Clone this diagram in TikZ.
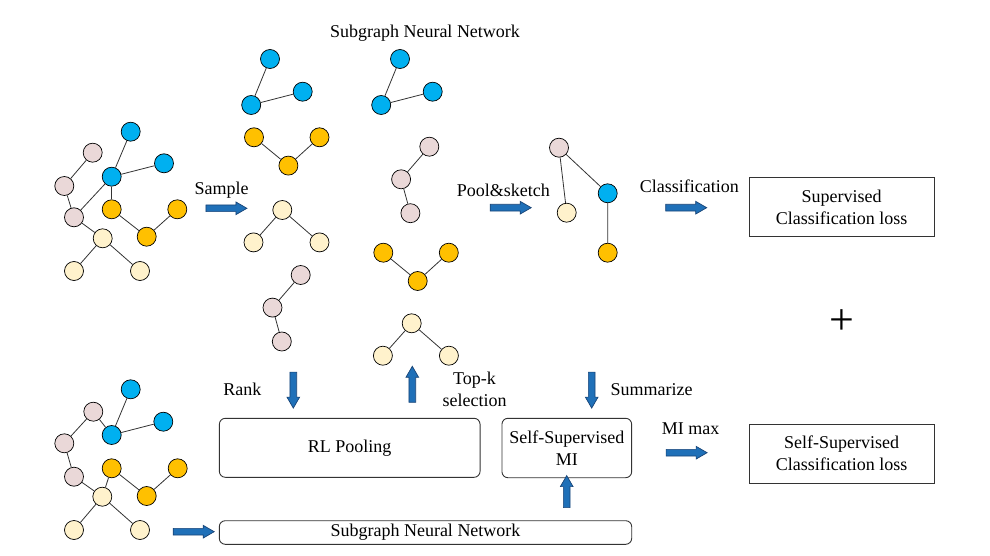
\documentclass[tikz,border=0pt]{standalone}
\usepackage{fontspec}
\setmainfont{Liberation Serif}
\usetikzlibrary{shapes.arrows}
\definecolor{vblue}{RGB}{0,176,240}
\definecolor{vorange}{RGB}{255,192,0}
\definecolor{vpink}{RGB}{234,216,216}
\definecolor{vcream}{RGB}{255,242,204}
\definecolor{arrowblue}{RGB}{31,112,184}
\definecolor{arrowedge}{RGB}{25,68,118}
\tikzset{every node/.style={font=\fontsize{18}{22}\selectfont}}
\tikzset{vtx/.style={circle, draw=black, line width=0.7pt, minimum size=19pt, inner sep=0pt},
  bv/.style={vtx, fill=vblue}, ov/.style={vtx, fill=vorange},
  pv/.style={vtx, fill=vpink}, cv/.style={vtx, fill=vcream},
  edge/.style={draw=black!80, line width=0.8pt}}
\tikzset{fat/.style={single arrow, draw=arrowedge, fill=arrowblue, line width=0.7pt,
  inner xsep=0pt, inner ysep=3pt, single arrow head extend=3pt, single arrow tip angle=60},
  box/.style={draw=black!80, line width=0.9pt, align=center, inner sep=0pt},
  rbox/.style={box, rounded corners=6pt}}

\begin{document}
\begin{tikzpicture}[x=1pt,y=-1pt]
   \useasboundingbox (0,0) rectangle (990,556);

   % input graph (top)
   \node[bv] (gb1) at (130.7,131.7) {};
   \node[pv] (gp1) at ( 92.7,152.7) {};
   \node[bv] (gb2) at (111.7,176.7) {};
   \node[bv] (gb3) at (164.0,163.3) {};
   \node[pv] (gp2) at ( 64.3,186.0) {};
   \node[ov] (go1) at (111.7,209.3) {};
   \node[ov] (go3) at (177.3,209.3) {};
   \node[pv] (gp3) at ( 74.0,217.3) {};
   \node[ov] (go2) at (146.7,236.7) {};
   \node[cv] (gc1) at (102.7,238.3) {};
   \node[cv] (gc2) at ( 74.0,271.0) {};
   \node[cv] (gc3) at (140.0,271.0) {};
   \draw[edge] (gb1) -- (gb2) -- (gb3);
   \draw[edge] (gb2) -- (go1);
   \draw[edge] (gb2) -- (gp3);
   \draw[edge] (gp1) -- (gp2) -- (gp3) -- (gc1);
   \draw[edge] (go1) -- (go2) -- (go3);
   \draw[edge] (gc2) -- (gc1) -- (gc3);

   % input graph (bottom)
   \node[bv] (hb1) at (130.7,389.3) {};
   \node[pv] (hp1) at ( 93.3,411.7) {};
   \node[bv] (hb2) at (111.7,435.0) {};
   \node[bv] (hb3) at (163.3,421.7) {};
   \node[pv] (hp2) at ( 64.3,443.3) {};
   \node[ov] (ho1) at (111.7,468.3) {};
   \node[ov] (ho3) at (177.7,468.3) {};
   \node[pv] (hp3) at ( 74.0,476.7) {};
   \node[cv] (hc1) at (102.3,496.7) {};
   \node[ov] (ho2) at (146.7,496.0) {};
   \node[cv] (hc2) at ( 74.0,530.0) {};
   \node[cv] (hc3) at (140.0,530.0) {};
   \draw[edge] (hb1) -- (hb2) -- (hb3);
   \draw[edge] (hp1) -- (hb2);
   \draw[edge] (hp1) -- (hp2) -- (hp3) -- (hc1);
   \draw[edge] (hc1) -- (ho1) -- (ho2) -- (ho3);
   \draw[edge] (hc2) -- (hc1) -- (hc3);

   % sampled subgraphs
   \begin{scope}[shift={(270,59)}]
    \node[bv] (a) at (  0.0, 0.0) {};
    \node[bv] (b) at (-18.8,46.0) {};
    \node[bv] (c) at ( 32.7,32.7) {};
    \draw[edge] (a) -- (b) -- (c);
   \end{scope}
   \begin{scope}[shift={(400,59)}]
    \node[bv] (a) at (  0.0, 0.0) {};
    \node[bv] (b) at (-18.8,46.0) {};
    \node[bv] (c) at ( 32.7,32.7) {};
    \draw[edge] (a) -- (b) -- (c);
   \end{scope}
   \begin{scope}[shift={(254,137.3)}]
    \node[ov] (a) at ( 0.0, 0.0) {};
    \node[ov] (b) at (34.4,28.3) {};
    \node[ov] (c) at (65.5, 0.0) {};
    \draw[edge] (a) -- (b) -- (c);
   \end{scope}
   \begin{scope}[shift={(383.3,252.7)}]
    \node[ov] (a) at ( 0.0, 0.0) {};
    \node[ov] (b) at (34.4,28.3) {};
    \node[ov] (c) at (65.5, 0.0) {};
    \draw[edge] (a) -- (b) -- (c);
   \end{scope}
   \begin{scope}[shift={(282.3,210)}]
    \node[cv] (a) at (  0.0, 0.0) {};
    \node[cv] (b) at (-28.8,32.4) {};
    \node[cv] (c) at ( 37.2,32.4) {};
    \draw[edge] (b) -- (a) -- (c);
   \end{scope}
   \begin{scope}[shift={(411.7,323.3)}]
    \node[cv] (a) at (  0.0, 0.0) {};
    \node[cv] (b) at (-28.8,32.4) {};
    \node[cv] (c) at ( 37.2,32.4) {};
    \draw[edge] (b) -- (a) -- (c);
   \end{scope}
   \begin{scope}[shift={(300.7,275)}]
    \node[pv] (a) at (  0.0, 0.0) {};
    \node[pv] (b) at (-28.2,32.6) {};
    \node[pv] (c) at (-18.9,66.5) {};
    \draw[edge] (a) -- (b) -- (c);
   \end{scope}
   \begin{scope}[shift={(429.3,146.7)}]
    \node[pv] (a) at (  0.0, 0.0) {};
    \node[pv] (b) at (-28.2,32.6) {};
    \node[pv] (c) at (-18.9,66.5) {};
    \draw[edge] (a) -- (b) -- (c);
   \end{scope}

   % pooled graph
   \node[pv] (pp) at (559.0,147.7) {};
   \node[cv] (pc) at (566.7,212.7) {};
   \node[bv] (pb) at (607.7,193.3) {};
   \node[ov] (po) at (607.7,252.7) {};
   \draw[edge] (pc) -- (pp) -- (pb) -- (po);

   % boxes
   \node[box, minimum width=184.7pt, minimum height=59.4pt] (suploss) at (841.7,207.0) {Supervised\\Classification loss};
   \node[box, minimum width=184.7pt, minimum height=59.4pt] (selfloss) at (841.7,453.7) {Self-Supervised\\Classification loss};
   \node[rbox, minimum width=260.7pt, minimum height=59.0pt] (rlpool) at (349.7,447.8) {RL Pooling};
   \node[rbox, minimum width=129.7pt, minimum height=59.4pt] (mibox) at (566.8,448.0) {Self-Supervised\\MI};
   \node[rbox, minimum width=412.4pt, minimum height=23.6pt] (snnbox) at (425.5,532.5) {Subgraph Neural Network};

   % block arrows
   \node[fat, minimum height=41pt] (samplearr) at (223.5,208.3) {};
   \node[fat, minimum height=41pt] (poolarr) at (507.8,207.7) {};
   \node[fat, minimum height=41pt] (classarr) at (683.3,207.7) {};
   \node[fat, minimum height=41pt] (miarr) at (683.7,452.7) {};
   \node[fat, minimum height=41pt] (inarr) at (190.8,531.7) {};
   \node[fat, minimum height=36pt, rotate=-90] (rankarr) at (293.3,387.2) {};
   \node[fat, minimum height=36pt, rotate=90] (topkarr) at (412.3,387.2) {};
   \node[fat, minimum height=36pt, rotate=-90] (sumarr) at (591.7,387.2) {};
   \node[fat, minimum height=32pt, rotate=90] (upmiarr) at (566.7,494.5) {};

   % labels
   \node (snntitle) at (425.0,33.0) {Subgraph Neural Network};
   \node (sample) at (221.7,190.0) {Sample};
   \node (pool) at (503.3,190.0) {Pool\&sketch};
   \node (classif) at (689.3,186.7) {Classification};
   \node (rank) at (242.3,389.3) {Rank};
   \node[align=center] (topk) at (474.6,389.5) {Top-k\\selection};
   \node (summ) at (651.7,389.3) {Summarize};
   \node (mimax) at (690.7,428.3) {MI max};
   \node (plus) at (841.7,321.7) {\fontsize{44}{44}\selectfont +};
  \end{tikzpicture}
\end{document}
